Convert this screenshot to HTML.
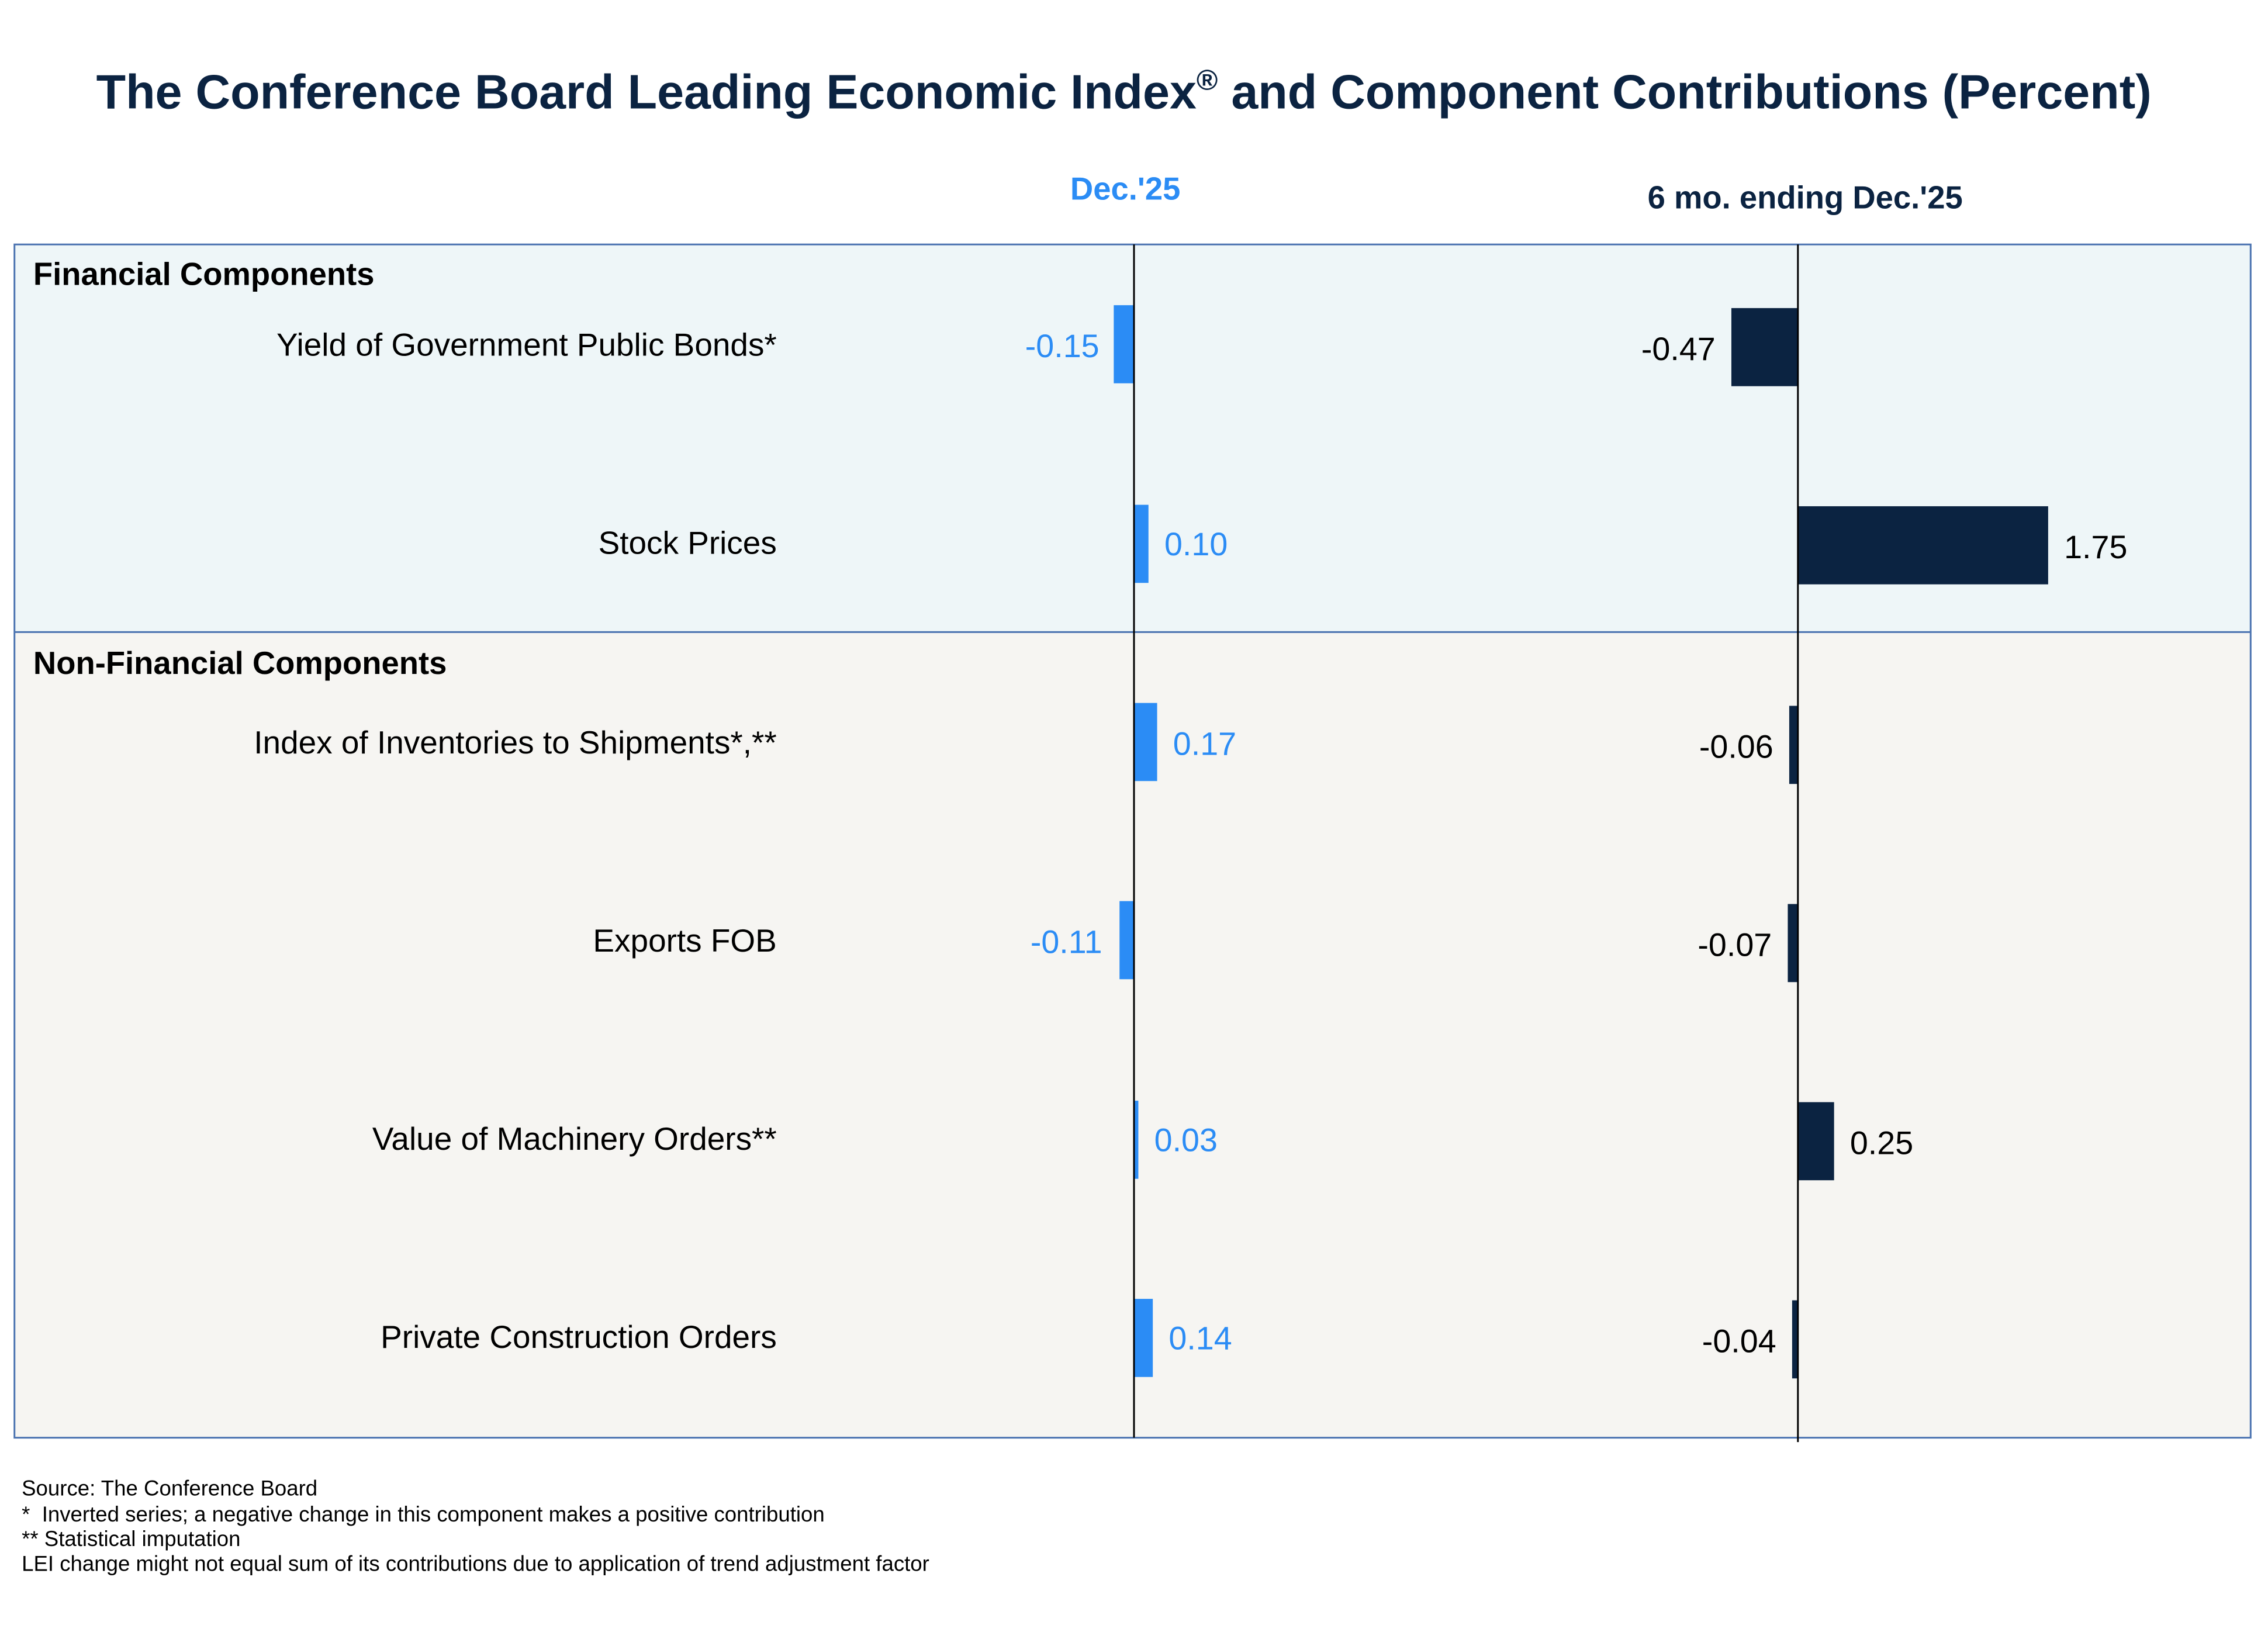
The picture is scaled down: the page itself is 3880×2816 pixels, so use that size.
<!DOCTYPE html>
<html><head><meta charset="utf-8"><style>html,body{margin:0;padding:0;background:#fff}svg{display:block}</style></head>
<body>
<svg width="3880" height="2816" viewBox="0 0 1568 1138" preserveAspectRatio="none" xmlns="http://www.w3.org/2000/svg" font-family="Liberation Sans, Arial, sans-serif">
<rect width="1568" height="1138" fill="#fff"/>
<text x="777" y="75" text-anchor="middle" font-size="33.4" font-weight="bold" fill="#0b2341">The Conference Board Leading Economic Index<tspan font-size="20" dy="-13">®</tspan><tspan dy="13"> and Component Contributions (Percent)</tspan></text>
<text x="778" y="138" text-anchor="middle" font-size="22" font-weight="bold" fill="#2b8cf5">Dec.'25</text>
<text x="1248" y="144" text-anchor="middle" font-size="22" font-weight="bold" fill="#0b2341">6 mo. ending Dec.'25</text>
<rect x="10" y="169" width="1546" height="268" fill="#eef6f8"/>
<rect x="10" y="437" width="1546" height="557" fill="#f6f5f2"/>
<rect x="10" y="169" width="1546" height="825" fill="none" stroke="#4a72b0" stroke-width="1.2"/>
<line x1="10" y1="437" x2="1556" y2="437" stroke="#4a72b0" stroke-width="1.2"/>
<text x="23" y="197" font-size="22" font-weight="bold" fill="#000">Financial Components</text>
<text x="23" y="466" font-size="22" font-weight="bold" fill="#000">Non-Financial Components</text>
<g font-size="22.2" fill="#000" text-anchor="end">
<text x="537" y="246">Yield of Government Public Bonds*</text>
<text x="537" y="383">Stock Prices</text>
<text x="537" y="521">Index of Inventories to Shipments*,**</text>
<text x="537" y="658">Exports FOB</text>
<text x="537" y="795">Value of Machinery Orders**</text>
<text x="537" y="932">Private Construction Orders</text>
</g>
<g fill="#2b8cf5">
<rect x="770" y="211" width="14" height="54"/>
<rect x="784" y="349" width="10" height="54"/>
<rect x="784" y="486" width="16" height="54"/>
<rect x="774" y="623" width="10" height="54"/>
<rect x="784" y="761" width="3" height="54"/>
<rect x="784" y="898" width="13" height="54"/>
</g>
<g font-size="22.5" fill="#2b8cf5">
<text x="760" y="247" text-anchor="end">-0.15</text>
<text x="805" y="384">0.10</text>
<text x="811" y="522">0.17</text>
<text x="762" y="659" text-anchor="end">-0.11</text>
<text x="798" y="796">0.03</text>
<text x="808" y="933">0.14</text>
</g>
<g fill="#0b2341">
<rect x="1197" y="213" width="46" height="54"/>
<rect x="1243" y="350" width="173" height="54"/>
<rect x="1237" y="488" width="6" height="54"/>
<rect x="1236" y="625" width="7" height="54"/>
<rect x="1243" y="762" width="25" height="54"/>
<rect x="1239" y="899" width="4" height="54"/>
</g>
<g font-size="22.5" fill="#000">
<text x="1186" y="249" text-anchor="end">-0.47</text>
<text x="1427" y="386">1.75</text>
<text x="1226" y="524" text-anchor="end">-0.06</text>
<text x="1225" y="661" text-anchor="end">-0.07</text>
<text x="1279" y="798">0.25</text>
<text x="1228" y="935" text-anchor="end">-0.04</text>
</g>
<line x1="784" y1="169" x2="784" y2="994" stroke="#000" stroke-width="1.2"/>
<line x1="1243" y1="169" x2="1243" y2="997" stroke="#000" stroke-width="1.2"/>
<g font-size="14.8" fill="#000">
<text x="15" y="1034">Source: The Conference Board</text>
<text x="15" y="1052" xml:space="preserve">*  Inverted series; a negative change in this component makes a positive contribution</text>
<text x="15" y="1069">** Statistical imputation</text>
<text x="15" y="1086">LEI change might not equal sum of its contributions due to application of trend adjustment factor</text>
</g>
</svg>
</body></html>
